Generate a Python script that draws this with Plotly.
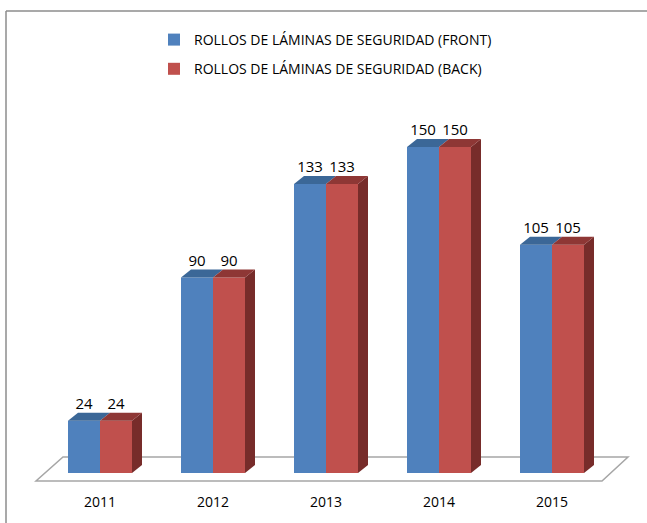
import plotly.graph_objects as go

# data
years = ["2011", "2012", "2013", "2014", "2015"]
front = [24, 90, 133, 150, 105]
back = [24, 90, 133, 150, 105]
series_names = ["ROLLOS DE LÁMINAS DE SEGURIDAD (FRONT)",
                "ROLLOS DE LÁMINAS DE SEGURIDAD (BACK)"]

BLUE, BLUE_TOP = "#4F81BD", "#3B6797"
RED, RED_TOP, RED_SIDE = "#C0504D", "#8E3735", "#772C2A"
FONT = "Open Sans, sans-serif"

W, H = 647, 523
MB = 31
plot_h = H - MB
base_px = 473          # pixel row of value 0
px_unit = 2.173        # pixels per value unit
cat_px = 113           # pixels between categories
first_px = 100         # pixel column of first category centre

idx = list(range(len(years)))
w = 32 / cat_px        # single bar width in x units
dx = 10 / cat_px       # 3d depth offset
dy = 8 / px_unit

x0 = -first_px / cat_px
x1 = x0 + W / cat_px
y_top = base_px / px_unit
y_bot = -(plot_h - base_px) / px_unit


def top_faces(centers, vals):
    xs, ys = [], []
    for c, v in zip(centers, vals):
        l, r = c - w / 2, c + w / 2
        xs += [l, r, r + dx, l + dx, l, None]
        ys += [v, v, v + dy, v + dy, v, None]
    return xs, ys


def side_faces(centers, vals):
    xs, ys = [], []
    for c, v in zip(centers, vals):
        r = c + w / 2
        xs += [r, r, r + dx, r + dx, r, None]
        ys += [0, v, v + dy, dy, 0, None]
    return xs, ys


bc = [i - w / 2 for i in idx]
rc = [i + w / 2 for i in idx]

fig = go.Figure()

fig.add_trace(go.Bar(x=bc, y=front, width=w, marker=dict(color=BLUE, line=dict(width=0)),
                     name=series_names[0], legendgroup="a", hoverinfo="skip"))
fig.add_trace(go.Bar(x=rc, y=back, width=w, marker=dict(color=RED, line=dict(width=0)),
                     name=series_names[1], legendgroup="b", hoverinfo="skip"))

sx, sy = side_faces(rc, back)
fig.add_trace(go.Scatter(x=sx, y=sy, fill="toself", fillcolor=RED_SIDE, mode="lines",
                         line=dict(width=0), showlegend=False, hoverinfo="skip"))
tx, ty = top_faces(bc, front)
fig.add_trace(go.Scatter(x=tx, y=ty, fill="toself", fillcolor=BLUE_TOP, mode="lines",
                         line=dict(width=0), showlegend=False, hoverinfo="skip"))
tx, ty = top_faces(rc, back)
fig.add_trace(go.Scatter(x=tx, y=ty, fill="toself", fillcolor=RED_TOP, mode="lines",
                         line=dict(width=0), showlegend=False, hoverinfo="skip"))

# value labels
fig.add_trace(go.Scatter(x=bc + rc,
                         y=[v + dy for v in front] + [v + dy for v in back],
                         text=[str(v) for v in front] + [str(v) for v in back],
                         mode="text", textposition="top center",
                         textfont=dict(family=FONT, size=15, color="#000000"),
                         cliponaxis=False, showlegend=False, hoverinfo="skip"))

# floor
fl, fr = x0 + 36 / cat_px, x0 + 602 / cat_px
bl, br = x0 + 63 / cat_px, x0 + 628 / cat_px
fb, ft = -(481 - base_px) / px_unit, (base_px - 457) / px_unit
fig.add_shape(type="path", xref="x", yref="y", layer="below",
              path=f"M {fl},{fb} L {fr},{fb} L {br},{ft} L {bl},{ft} Z",
              line=dict(color="#A6A6A6", width=1.5), fillcolor="white")

# chart border (left and top visible)
fig.add_shape(type="line", xref="paper", yref="paper",
              x0=6 / W, x1=1.01, y0=1 - 11 / plot_h, y1=1 - 11 / plot_h,
              line=dict(color="#8C8C8C", width=1.5))
fig.add_shape(type="line", xref="paper", yref="paper",
              x0=6 / W, x1=6 / W, y0=1 - 11 / plot_h, y1=-MB / plot_h - 0.01,
              line=dict(color="#8C8C8C", width=1.5))

fig.update_layout(
    width=W, height=H,
    margin=dict(l=0, r=0, t=0, b=MB),
    paper_bgcolor="white", plot_bgcolor="white",
    barmode="overlay",
    font=dict(family=FONT, size=14, color="#000000"),
    showlegend=True,
    legend=dict(x=154 / W, y=1 - 24 / plot_h, xanchor="left", yanchor="top",
                orientation="v", tracegroupgap=8, bgcolor="rgba(0,0,0,0)",
                font=dict(family=FONT, size=14, color="#000000")),
    xaxis=dict(range=[x0, x1], tickvals=idx, ticktext=years, showgrid=False,
               zeroline=False, showline=False, ticks="", fixedrange=True,
               tickfont=dict(family=FONT, size=14, color="#000000")),
    yaxis=dict(range=[y_bot, y_top], visible=False, showgrid=False,
               zeroline=False, fixedrange=True),
)

fig.write_html("out.html", config={"displayModeBar": False},
               post_script="document.body.style.margin='0';")
